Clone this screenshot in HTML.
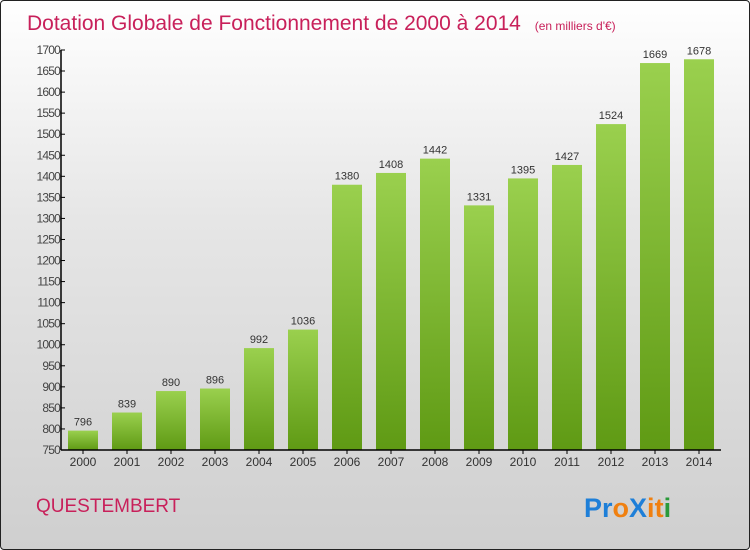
<!DOCTYPE html>
<html><head><meta charset="utf-8"><style>
html,body{margin:0;padding:0}
body{width:750px;height:550px;overflow:hidden;font-family:"Liberation Sans",sans-serif}
#frame{position:absolute;left:0;top:0;width:748px;height:548px;border:1px solid #222;border-radius:4px;background:linear-gradient(#ffffff 0%,#e6e6e6 40%,#cfcfcf 100%);overflow:hidden}
</style></head><body>
<div id="frame">
<svg id="chart" width="750" height="550" style="position:absolute;left:-1px;top:-1px">
<defs><linearGradient id="barg" x1="0" y1="0" x2="0" y2="1"><stop offset="0" stop-color="#9ad04e"/><stop offset="1" stop-color="#5f9a14"/></linearGradient></defs>
<text x="27" y="30" font-size="21" fill="#c8205a">Dotation Globale de Fonctionnement de 2000 à 2014 <tspan font-size="12" dx="8">(en milliers d'€)</tspan></text>
<text x="36" y="512" font-size="19" fill="#c8205a">QUESTEMBERT</text>
<g font-size="27" font-weight="bold" font-family="Liberation Sans, sans-serif">
<text x="584" y="517" fill="#1e7fd8">Pr<tspan fill="#f08010">o</tspan><tspan fill="#1e7fd8">X</tspan><tspan fill="#f08010">i</tspan><tspan fill="#f08010">t</tspan><tspan fill="#2a9a3a">i</tspan></text>
</g>
<g id="plot"></g>
</svg>
</div>
<script>
const years=["2000","2001","2002","2003","2004","2005","2006","2007","2008","2009","2010","2011","2012","2013","2014"];
const values=[796,839,890,896,992,1036,1380,1408,1442,1331,1395,1427,1524,1669,1678];
const yTicks=[750,800,850,900,950,1000,1050,1100,1150,1200,1250,1300,1350,1400,1450,1500,1550,1600,1650,1700];
const x0=61,x1=721,yTop=50,yBot=450,yMin=750,yMax=1700;
const ns="http://www.w3.org/2000/svg";
const g=document.getElementById('plot');
const Y=v=>yBot-(v-yMin)/(yMax-yMin)*(yBot-yTop);
const step=(x1-x0)/years.length;
const X=i=>x0+step*i+step/2;
function mk(t,a,txt){const e=document.createElementNS(ns,t);for(const k in a)e.setAttribute(k,a[k]);if(txt!==undefined)e.textContent=txt;g.appendChild(e);return e;}
values.forEach((v,i)=>{
 const r=mk('rect',{x:X(i)-15,y:Y(v),width:30,height:yBot-Y(v),fill:'url(#barg)'});
 
 
 const t=mk('text',{x:X(i),y:Y(v)-5,'text-anchor':'middle','font-size':11,fill:'#333'},String(v));
 
 
 const xl=mk('text',{x:X(i),y:466,'text-anchor':'middle','font-size':12,fill:'#333'},years[i]);
 
 
 mk('line',{x1:X(i),x2:X(i),y1:yBot,y2:yBot+4,stroke:'#000'});
});
yTicks.forEach(v=>{
 mk('line',{x1:x0,x2:x0+4,y1:Y(v),y2:Y(v),stroke:'#000'});
 const t=mk('text',{x:x0-1,y:Y(v)+4,'text-anchor':'end','font-size':12,fill:'#444','letter-spacing':'-0.8'},String(v));
 
 
});
const ya=mk('line',{x1:x0,x2:x0,y1:yTop,y2:yBot,stroke:'#000','stroke-width':1.5});


const xa=mk('line',{x1:x0,x2:x1,y1:yBot,y2:yBot,stroke:'#000','stroke-width':1.5});


</script>
</body></html>
